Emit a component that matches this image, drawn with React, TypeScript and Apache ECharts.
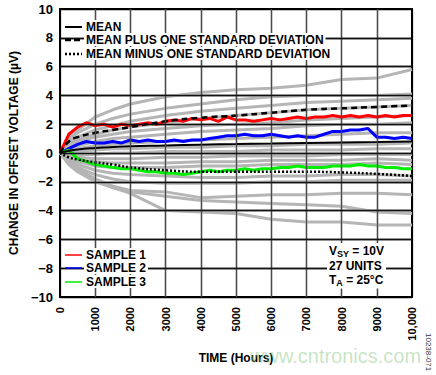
import React, { useEffect, useRef } from "react";
import * as echarts from "echarts";

const yTicks = [10, 8, 6, 4, 2, 0, -2, -4, -6, -8, -10];
const xTicks = [0, 1000, 2000, 3000, 4000, 5000, 6000, 7000, 8000, 9000, 10000];

const hoursCoarse = [0, 250, 500, 1000, 1500, 2000, 3000, 4000, 5000, 6000, 7000, 8000, 9000, 10000];
const hoursFine = [
  0, 250, 500, 750, 1000, 1250, 1500, 1750, 2000, 2250, 2500, 2750, 3000, 3250, 3500, 3750, 4000, 4250,
  4500, 4750, 5000, 5250, 5500, 5750, 6000, 6250, 6500, 6750, 7000, 7250, 7500, 7750, 8000, 8250, 8500,
  8750, 9000, 9250, 9500, 9750, 10000,
];

const meanValues = [0, 0.15, 0.25, 0.35, 0.42, 0.47, 0.52, 0.58, 0.62, 0.66, 0.7, 0.73, 0.76, 0.8];
const plusSdValues = [0, 0.8, 1.1, 1.4, 1.6, 1.8, 2.2, 2.45, 2.6, 2.8, 3.0, 3.1, 3.2, 3.3];
const minusSdValues = [0, -0.3, -0.45, -0.65, -0.8, -1.0, -1.2, -1.3, -1.3, -1.3, -1.3, -1.35, -1.45, -1.6];

const sample1 = [
  0, 1.3, 1.8, 2.1, 1.9, 2.0, 1.8, 2.0, 1.9, 2.0, 2.1, 2.0, 2.2, 2.3, 2.2, 2.4, 2.3, 2.4, 2.2, 2.5, 2.3,
  2.3, 2.2, 2.3, 2.4, 2.3, 2.4, 2.5, 2.4, 2.5, 2.5, 2.6, 2.5, 2.6, 2.5, 2.6, 2.5, 2.6, 2.5, 2.6, 2.6,
];
const sample2 = [
  0, 0.3, 0.6, 0.8, 0.7, 0.7, 0.8, 0.7, 0.9, 0.8, 0.9, 0.8, 0.8, 0.9, 0.8, 0.9, 0.9, 1.0, 1.1, 1.2, 1.2,
  1.3, 1.2, 1.2, 1.3, 1.2, 1.1, 1.2, 1.1, 1.1, 1.3, 1.5, 1.5, 1.6, 1.6, 1.7, 1.1, 1.1, 1.0, 1.1, 1.0,
];
const sample3 = [
  0, 0.2, -0.4, -0.6, -0.8, -0.9, -1.0, -1.1, -1.1, -1.2, -1.3, -1.3, -1.4, -1.4, -1.5, -1.4, -1.3, -1.2,
  -1.3, -1.2, -1.2, -1.1, -1.2, -1.1, -1.1, -1.0, -1.0, -0.9, -1.0, -1.0, -1.0, -0.9, -0.9, -0.9, -0.8,
  -0.9, -0.9, -1.0, -1.0, -1.1, -1.1,
];

const unit01 = [0, 1.0, 1.6, 2.5, 3.0, 3.4, 3.9, 4.2, 4.4, 4.5, 4.7, 5.1, 5.2, 5.8];
const unit02 = [0, 0.9, 1.4, 2.0, 2.4, 2.7, 3.1, 3.4, 3.7, 3.9, 4.0, 4.0, 4.0, 4.1];
const unit03 = [0, 0.7, 1.1, 1.6, 1.9, 2.2, 2.6, 2.9, 3.1, 3.3, 3.5, 3.6, 3.7, 3.8];
const unit04 = [0, 0.6, 0.9, 1.3, 1.6, 1.8, 2.1, 2.4, 2.6, 2.8, 3.0, 3.1, 3.2, 3.3];
const unit05 = [0, 0.5, 0.8, 1.1, 1.3, 1.5, 1.7, 1.9, 2.0, 2.1, 2.3, 2.4, 2.5, 2.6];
const unit06 = [0, 0.3, 0.5, 0.8, 1.0, 1.1, 1.3, 1.5, 1.6, 1.7, 1.9, 2.0, 2.0, 2.1];
const unit07 = [0, 0.2, 0.3, 0.5, 0.6, 0.7, 0.8, 0.9, 1.0, 1.1, 1.2, 1.3, 1.4, 1.4];
const unit08 = [0, 0.1, 0.1, 0.2, 0.3, 0.3, 0.4, 0.4, 0.5, 0.5, 0.6, 0.6, 0.6, 0.7];
const unit09 = [0, 0, -0.1, -0.1, 0, 0, 0.1, 0.1, 0.1, 0.2, 0.2, 0.2, 0.3, 0.3];
const unit10 = [0, -0.2, -0.3, -0.4, -0.4, -0.4, -0.3, -0.3, -0.2, -0.2, -0.2, -0.1, -0.1, -0.1];
const unit11 = [0, -0.3, -0.5, -0.6, -0.7, -0.7, -0.7, -0.6, -0.6, -0.5, -0.5, -0.5, -0.4, -0.5];
const unit12 = [0, -0.4, -0.6, -0.9, -1.0, -1.0, -1.0, -0.9, -0.9, -0.8, -0.8, -0.8, -0.7, -0.8];
const unit13 = [0, -0.5, -0.8, -1.2, -1.4, -1.5, -1.6, -1.7, -1.7, -1.6, -1.6, -1.5, -1.5, -1.6];
const unit14 = [0, -0.6, -1.0, -1.5, -1.8, -2.0, -2.1, -2.1, -2.1, -2.0, -2.0, -1.9, -1.9, -1.9];
const unit15 = [0, -0.6, -1.1, -1.8, -2.3, -2.6, -2.7, -3.1, -3.0, -2.9, -2.9, -2.8, -2.8, -2.9];
const unit16 = [0, -0.7, -1.2, -1.9, -2.4, -2.7, -3.0, -3.3, -3.4, -3.5, -3.6, -3.7, -4.1, -4.2];
const unit17 = [0, -0.8, -1.3, -2.0, -2.4, -2.8, -4.0, -4.1, -4.2, -4.6, -4.8, -4.8, -5.0, -5.0];

const grayUnits = [
  unit01, unit02, unit03, unit04, unit05, unit06, unit07, unit08, unit09,
  unit10, unit11, unit12, unit13, unit14, unit15, unit16, unit17,
];

const FONT = "'Liberation Sans', Arial, sans-serif";

const pair = (xs: number[], ys: number[]) => xs.map((x, i) => [x, ys[i]]);

export default function App() {
  const ref = useRef<HTMLDivElement>(null);
  useEffect(() => {
    if (!ref.current) return;
    document.body.style.margin = "0";
    const chart = echarts.init(ref.current, null, { renderer: "svg" });
    const series: any[] = [];
    // grid lines, positioned through the axes' own scales
    series.push({
      name: "grid",
      type: "line",
      data: [],
      symbol: "none",
      z: 1,
      silent: true,
      markLine: {
        silent: true,
        symbol: ["none", "none"],
        label: { show: false },
        emphasis: { disabled: true },
        animation: false,
        data: [
          ...xTicks.slice(1, -1).map((v) => ({ xAxis: v, lineStyle: { color: "#4a4a4a", width: 1.3, type: "solid" } })),
          ...yTicks.slice(1, -1).map((v) => ({ yAxis: v, lineStyle: { color: "#111", width: 1.3, type: "solid" } })),
        ],
      },
    });
    grayUnits.forEach((u, i) => {
      series.push({
        name: "unit" + i,
        type: "line",
        data: pair(hoursCoarse, u),
        symbol: "none",
        lineStyle: { color: "#b5b5b5", width: 3 },
        z: 2,
      });
    });
    series.push(
      { name: "SAMPLE 1", type: "line", data: pair(hoursFine, sample1), symbol: "none", lineStyle: { color: "#ff0000", width: 3 }, z: 3 },
      { name: "SAMPLE 2", type: "line", data: pair(hoursFine, sample2), symbol: "none", lineStyle: { color: "#0000ff", width: 3 }, z: 3 },
      { name: "SAMPLE 3", type: "line", data: pair(hoursFine, sample3), symbol: "none", lineStyle: { color: "#00ee00", width: 3 }, z: 3 },
      { name: "MEAN", type: "line", data: pair(hoursCoarse, meanValues), symbol: "none", smooth: true, lineStyle: { color: "#000", width: 2 }, z: 4 },
      { name: "MEAN PLUS ONE STANDARD DEVIATION", type: "line", data: pair(hoursCoarse, plusSdValues), symbol: "none", smooth: true, lineStyle: { color: "#000", width: 2.5, type: [6, 4] }, z: 4 },
      { name: "MEAN MINUS ONE STANDARD DEVIATION", type: "line", data: pair(hoursCoarse, minusSdValues), symbol: "none", smooth: true, lineStyle: { color: "#000", width: 2.5, type: [2, 2] }, z: 4 }
    );

    const legendText = (text: string, y: number) => ({
      type: "text",
      left: 84,
      top: y - 7,
      z: 100,
      style: {
        text,
        font: `bold 12px ${FONT}`,
        fill: "#000",
        backgroundColor: "#fff",
        padding: [1, 2, 0, 2],
      },
    });
    const legendLine = (y: number, color: string, width: number, dash?: number[]) => ({
      type: "line",
      z: 100,
      shape: { x1: 65, y1: y, x2: 82, y2: y },
      style: dash ? { stroke: color, lineWidth: width, lineDash: dash } : { stroke: color, lineWidth: width },
    });

    const borderAxis = {
      axisLine: { show: true, onZero: false, lineStyle: { color: "#000", width: 2 } },
      axisTick: { show: false },
      axisLabel: { show: false },
      splitLine: { show: false },
    };

    chart.setOption({
      animation: false,
      grid: { left: 52, right: 24, top: 9, bottom: 78 },
      xAxis: [
        {
          type: "value",
          min: 0,
          max: 10000,
          interval: 1000,
          name: "TIME (Hours)",
          nameLocation: "middle",
          nameGap: 55,
          nameTextStyle: { fontFamily: FONT, fontWeight: "bold", fontSize: 12, color: "#000" },
          axisLine: { show: true, onZero: false, lineStyle: { color: "#000", width: 2 } },
          axisTick: { show: false },
          axisLabel: {
            rotate: 90,
            margin: 10,
            fontFamily: FONT,
            fontWeight: "bold",
            fontSize: 11,
            color: "#000",
            formatter: (v: number) => (xTicks.includes(v) ? (v === 10000 ? "10,000" : String(v)) : ""),
          },
          splitLine: { show: true, lineStyle: { color: "#4a4a4a", width: 1.3 } },
        },
        { type: "value", position: "top", min: 0, max: 10000, interval: 1000, ...borderAxis },
      ],
      yAxis: [
        {
          type: "value",
          min: -10,
          max: 10,
          interval: 2,
          name: "CHANGE IN OFFSET VOLTAGE (µV)",
          nameLocation: "middle",
          nameGap: 40,
          nameTextStyle: { fontFamily: FONT, fontWeight: "bold", fontSize: 12, color: "#000" },
          axisLine: { show: true, onZero: false, lineStyle: { color: "#000", width: 2 } },
          axisTick: { show: false },
          axisLabel: {
            margin: 7,
            fontFamily: FONT,
            fontWeight: "bold",
            fontSize: 13,
            color: "#000",
            formatter: (v: number) => (yTicks.includes(v) ? (v < 0 ? "\u2212" + Math.abs(v) : String(v)) : ""),
          },
          splitLine: { show: true, lineStyle: { color: "#111", width: 1.3 } },
        },
        { type: "value", position: "right", min: -10, max: 10, interval: 2, ...borderAxis },
      ],
      series,
      graphic: [
        legendLine(27, "#000", 2),
        legendLine(40, "#000", 2.5, [6, 3]),
        legendLine(54, "#000", 2.5, [2, 2]),
        legendText("MEAN", 27),
        legendText("MEAN PLUS ONE STANDARD DEVIATION", 40),
        legendText("MEAN MINUS ONE STANDARD DEVIATION", 54),
        legendLine(255, "#ff0000", 1.5),
        legendLine(268, "#0000ff", 1.5),
        legendLine(282, "#00ee00", 1.5),
        legendText("SAMPLE 1", 255),
        legendText("SAMPLE 2", 268),
        legendText("SAMPLE 3", 282),
        {
          type: "text",
          left: 327,
          top: 243,
          z: 100,
          style: {
            text: "V{sub|SY} = 10V\n27 UNITS\nT{sub|A} = 25°C",
            font: `bold 12px ${FONT}`,
            fill: "#000",
            backgroundColor: "#fff",
            padding: [1, 2, 1, 2],
            lineHeight: 14.5,
            rich: {
              sub: { font: `bold 9px ${FONT}`, fill: "#000", padding: [6, 0, 0, 0] },
            },
          },
        },
        {
          type: "text",
          left: 250,
          top: 346,
          z: 200,
          style: {
            text: "www.cntronics.com",
            font: `20px ${FONT}`,
            fill: "rgba(130, 195, 120, 0.45)",
          },
        },
        {
          type: "text",
          x: 432,
          y: 333,
          rotation: -Math.PI / 2,
          z: 100,
          style: { text: "10238-071", font: `8px ${FONT}`, fill: "#333" },
        },
      ],
    });
    return () => chart.dispose();
  }, []);
  return <div ref={ref} style={{ width: 436, height: 375 }} />;
}
